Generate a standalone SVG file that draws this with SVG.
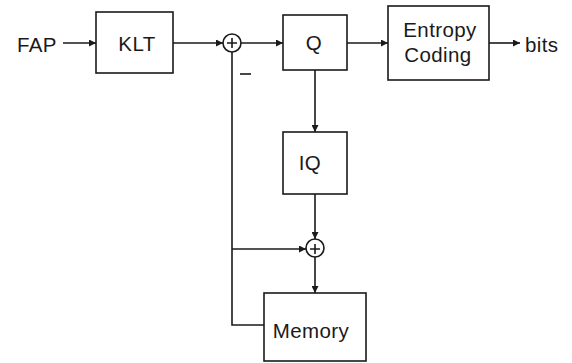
<svg xmlns="http://www.w3.org/2000/svg" width="572" height="363" viewBox="0 0 572 363">
  <defs>
    <marker id="arrow" viewBox="0 0 10 10" refX="10" refY="5" markerWidth="9" markerHeight="7" markerUnits="userSpaceOnUse" orient="auto">
      <path d="M0,0 L10,5 L0,10 Z" fill="#1a1a1a"/>
    </marker>
    <style>
      .box { fill: #fff; stroke: #1a1a1a; stroke-width: 1.6; }
      .wire { fill: none; stroke: #1a1a1a; stroke-width: 1.6; }
      .sum { fill: #fff; stroke: #1a1a1a; stroke-width: 1.6; }
      .lbl { font-family: "Liberation Sans", Arial, sans-serif; font-size: 20.5px; letter-spacing: 0.4px; fill: #1a1a1a; }
    </style>
  </defs>
  <rect width="572" height="363" fill="#fff"/>

  <!-- connectors -->
  <g id="connectors">
    <path class="wire" d="M63,43 H96" marker-end="url(#arrow)"/>
    <path class="wire" d="M173,43 H223" marker-end="url(#arrow)"/>
    <path class="wire" d="M241,43 H283" marker-end="url(#arrow)"/>
    <path class="wire" d="M347,43 H388" marker-end="url(#arrow)"/>
    <path class="wire" d="M489,43 H520" marker-end="url(#arrow)"/>
    <path class="wire" d="M315,70 V132" marker-end="url(#arrow)"/>
    <path class="wire" d="M315,194 V239" marker-end="url(#arrow)"/>
    <path class="wire" d="M315,257 V293" marker-end="url(#arrow)"/>
    <!-- feedback from memory to both adders -->
    <path class="wire" d="M264,325 H232 V52"/>
    <path class="wire" d="M232,249 H306" marker-end="url(#arrow)"/>
    <line class="wire" x1="240" y1="74" x2="251" y2="74" stroke-width="1.1" stroke="#555"/>
  </g>

  <g id="fap-in">
    <text class="lbl" x="17" y="52">FAP</text>
  </g>

  <g id="klt">
    <rect class="box" x="96" y="12" width="77" height="61"/>
    <text class="lbl" x="137" y="51" text-anchor="middle">KLT</text>
  </g>

  <g id="sum1">
    <circle class="sum" cx="232" cy="43" r="9"/>
    <path class="wire" d="M227,43 H237 M232,38 V48"/>
  </g>

  <g id="q">
    <rect class="box" x="283" y="15" width="64" height="55"/>
    <text class="lbl" x="314" y="50" text-anchor="middle">Q</text>
  </g>

  <g id="entropy">
    <rect class="box" x="388" y="6" width="101" height="74"/>
    <text class="lbl" x="440" y="37" text-anchor="middle">Entropy</text>
    <text class="lbl" x="438" y="62" text-anchor="middle">Coding</text>
  </g>

  <g id="bits-out">
    <text class="lbl" x="525" y="52">bits</text>
  </g>

  <g id="iq">
    <rect class="box" x="283" y="132" width="64" height="62"/>
    <text class="lbl" x="310" y="170" text-anchor="middle">IQ</text>
  </g>

  <g id="sum2">
    <circle class="sum" cx="315" cy="248" r="9"/>
    <path class="wire" d="M310,249 H320 M315,244 V254"/>
  </g>

  <g id="memory">
    <rect class="box" x="264" y="293" width="102" height="68"/>
    <text class="lbl" x="311" y="338" text-anchor="middle">Memory</text>
  </g>
</svg>
